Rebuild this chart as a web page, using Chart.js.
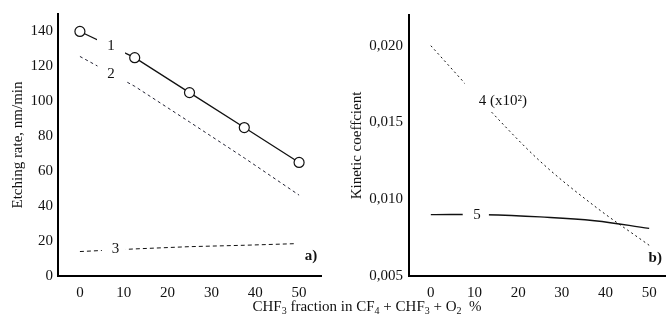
<!DOCTYPE html>
<html>
<head>
<meta charset="utf-8">
<script src="https://cdn.jsdelivr.net/npm/chart.js@4.4.1/dist/chart.umd.min.js"></script>
<style>
  body { margin: 0; background: #fff; width: 666px; height: 324px; overflow: hidden; position: relative; }
  #left { position: absolute; left: 0; top: 0; }
  #right { position: absolute; left: 333px; top: 0; }
  #xtitle { position: absolute; left: 0; top: 299px; width: 734px; text-align: center;
            font: 15px "Liberation Serif", serif; line-height: 15px; color: #111; }
  #xtitle sub { font-size: 10px; vertical-align: -3px; line-height: 0; }
</style>
</head>
<body>
<canvas id="left" width="333" height="324"></canvas>
<canvas id="right" width="345" height="324"></canvas>
<div id="xtitle">CHF<sub>3</sub> fraction in CF<sub>4</sub> + CHF<sub>3</sub> + O<sub>2</sub>&nbsp; %</div>
<script>
// data (CHF3 fraction, %)
const fraction = [0, 12.5, 25, 37.5, 50];
const fraction3 = [0, 12.5, 25, 37.5, 49];
const rate1 = [140, 125, 105, 85, 65];
const rate2 = [125.7, 108.6, 88.2, 67.6, 46.3];
const rate3 = [14, 15.5, 16.8, 17.6, 18.5];
const coef4 = [0.0200, 0.0161, 0.01248, 0.00955, 0.0070];
const coef5 = [0.0090, 0.00899, 0.00885, 0.0086, 0.0081];

// ticks
const xTicks = [0, 10, 20, 30, 40, 50];
const rateTicks = [0, 20, 40, 60, 80, 100, 120, 140];
const coefTicks = [0.005, 0.010, 0.015, 0.020];

const serif = '"Liberation Serif", "Times New Roman", serif';
const ink = '#111';

function pts(xs, ys) {
    return xs.map((x, i) => ({ x: x, y: ys[i] }));
}

// curve labels: white box cuts the line, then text is written
function curveLabels(list) {
    return {
        id: 'curveLabels',
        afterDatasetsDraw(chart) {
            const ctx = chart.ctx;
            const xs = chart.scales.x, ys = chart.scales.y;
            ctx.save();
            list.forEach(l => {
                if (l.cut) {
                    const x0 = xs.getPixelForValue(l.cut[0]);
                    const x1 = xs.getPixelForValue(l.cut[1]);
                    const y0 = ys.getPixelForValue(l.cut[2]);
                    const y1 = ys.getPixelForValue(l.cut[3]);
                    ctx.fillStyle = '#fff';
                    ctx.fillRect(x0, y0, x1 - x0, y1 - y0);
                }
                ctx.fillStyle = ink;
                ctx.font = (l.bold ? 'bold ' : '') + '15px ' + serif;
                ctx.textAlign = 'center';
                ctx.textBaseline = 'middle';
                ctx.fillText(l.text, xs.getPixelForValue(l.x), ys.getPixelForValue(l.y));
            });
            ctx.restore();
        }
    };
}

function baseOptions(yMin, yMax, yTickList, yWidth, yTitle, titlePad, tickPad, fmt) {
    return {
        responsive: false,
        animation: false,
        events: [],
        layout: { padding: { top: 13, left: 0, right: 0, bottom: 0 } },
        plugins: { legend: { display: false }, tooltip: { enabled: false } },
        scales: {
            x: {
                type: 'linear',
                min: -5,
                max: 55,
                grid: { display: false, drawTicks: false },
                border: { display: true, color: '#000', width: 2 },
                afterBuildTicks: s => { s.ticks = xTicks.map(v => ({ value: v })); },
                afterFit: s => { s.height = 48; },
                ticks: { color: ink, padding: 8, maxRotation: 0, font: { family: serif, size: 15 } }
            },
            y: {
                min: yMin,
                max: yMax,
                grid: { display: false, drawTicks: false },
                border: { display: true, color: '#000', width: 2 },
                afterBuildTicks: s => { s.ticks = yTickList.map(v => ({ value: v })); },
                afterFit: s => { s.width = yWidth; },
                ticks: { color: ink, padding: tickPad, font: { family: serif, size: 15 }, callback: fmt },
                title: { display: true, text: yTitle, color: ink, padding: { top: titlePad, bottom: 0 },
                         font: { family: serif, size: 15 } }
            }
        }
    };
}

// a) etching rate
const leftOpts = baseOptions(0, 150, rateTicks, 58, 'Etching rate, nm/min', 9, 5, v => v);
leftOpts.layout.padding.right = 12;
new Chart(document.getElementById('left'), {
    type: 'line',
    data: {
        datasets: [
            { data: pts(fraction, rate1), borderColor: ink, borderWidth: 1.3, tension: 0,
              pointRadius: 5, pointBorderWidth: 1.2, pointBorderColor: ink, pointBackgroundColor: '#fff' },
            { data: pts(fraction, rate2), borderColor: '#223', borderWidth: 1, borderDash: [3, 3],
              tension: 0, pointRadius: 0 },
            { data: pts(fraction3, rate3), borderColor: ink, borderWidth: 1, borderDash: [4, 3],
              tension: 0, pointRadius: 0 }
        ]
    },
    options: leftOpts,
    plugins: [curveLabels([
        { text: '1', x: 7.1, y: 131.4, cut: [3.9, 10.3, 137.5, 125.8] },
        { text: '2', x: 7.1, y: 115.4, cut: [4, 10.3, 122.3, 108.6] },
        { text: '3', x: 8.1, y: 15.3, cut: [5, 10.5, 20.6, 10.3] },
        { text: 'a)', x: 52.7, y: 11.4, bold: true }
    ])]
});

// b) kinetic coefficient
const rightOpts = baseOptions(0.005, 0.022, coefTicks, 76, 'Kinetic coeffcient', 15, 6,
    v => v.toFixed(3).replace('.', ','));
rightOpts.layout.padding.right = 7;
new Chart(document.getElementById('right'), {
    type: 'line',
    data: {
        datasets: [
            { data: pts(fraction, coef4), borderColor: ink, borderWidth: 1, borderDash: [2, 3],
              cubicInterpolationMode: 'monotone', pointRadius: 0 },
            { data: pts(fraction, coef5), borderColor: ink, borderWidth: 1.4,
              tension: 0.4, pointRadius: 0 }
        ]
    },
    options: rightOpts,
    plugins: [curveLabels([
        { text: '4 (x10²)', x: 16.5, y: 0.01642, cut: [7.8, 13.6, 0.0177, 0.0157] },
        { text: '5', x: 10.6, y: 0.0090, cut: [7.3, 13.3, 0.00954, 0.0085] },
        { text: 'b)', x: 51.4, y: 0.00617, bold: true }
    ])]
});
</script>
</body>
</html>
